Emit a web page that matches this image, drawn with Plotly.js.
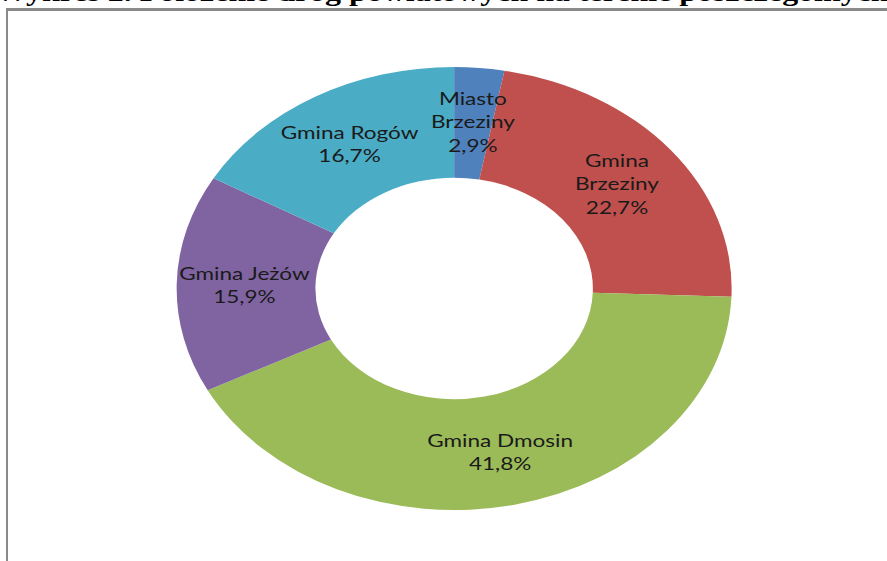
<!DOCTYPE html>
<html>
<head>
<meta charset="utf-8">
<script src="https://cdn.plot.ly/plotly-3.0.1.min.js"></script>
<style>
  html, body { margin: 0; padding: 0; background: #fff; overflow: hidden; width: 887px; height: 561px; }
  #frame { position: absolute; left: 6px; top: 8px; width: 1000px; height: 700px;
           border-left: 2px solid #8a8a8a; border-top: 3px solid #8a8a8a; box-sizing: border-box; }
  #chart { position: absolute; left: 0; top: 0; width: 708px; height: 561px;
           transform: scaleX(1.2528); transform-origin: 0 0; }
</style>
</head>
<body>
<div id="frame"></div>
<div id="chart"></div>
<script>
// ---- data ----
const categories = ["Miasto Brzeziny", "Gmina Brzeziny", "Gmina Dmosin", "Gmina Jeżów", "Gmina Rogów"];
const labelLines = ["Miasto<br>Brzeziny", "Gmina<br>Brzeziny", "Gmina Dmosin", "Gmina Jeżów", "Gmina Rogów"];
const shares = [2.9, 22.7, 41.8, 15.9, 16.7];
const colors = ["#4F81BD", "#C0504D", "#9BBB59", "#8064A2", "#4BACC6"];
const titleText = "Wykres 2. Położenie dróg powiatowych na terenie poszczególnych gmin";

// ---- layout geometry ----
const W = 708, H = 561;
const M = { l: 141, r: 124, t: 67, b: 51 };
const plotW = W - M.l - M.r, plotH = H - M.t - M.b;

const total = shares.reduce((a, b) => a + b, 0);
const labelRadius = 0.755; // fraction of outer radius
let cum = 0;
const annotations = shares.map((v, i) => {
  const mid = cum + v / 2;
  cum += v;
  const ang = 2 * Math.PI * mid / total;
  return {
    xref: "paper", yref: "paper",
    x: 0.5 + labelRadius * 0.5 * Math.sin(ang),
    y: 0.5 + labelRadius * 0.5 * Math.cos(ang),
    xanchor: "center", yanchor: "middle",
    text: labelLines[i] + "<br>" + v.toFixed(1).replace(".", ",") + "%",
    showarrow: false,
    font: { family: "Lato, 'Open Sans', sans-serif", size: 18, color: "#1a1a1a" }
  };
});

annotations.push({
  xref: "paper", yref: "paper",
  x: (-6 - M.l) / plotW, y: (H - M.b + 8) / plotH,
  xanchor: "left", yanchor: "middle",
  text: "<b>" + titleText + "</b>",
  showarrow: false,
  font: { family: "'Liberation Serif', 'Times New Roman', serif", size: 25.5, color: "#000" }
});

const trace = {
  type: "pie",
  labels: categories,
  values: shares,
  hole: 0.5,
  sort: false,
  direction: "clockwise",
  rotation: 0,
  marker: { colors: colors, line: { width: 0 } },
  textinfo: "none",
  hoverinfo: "label+percent",
  showlegend: false
};

const layout = {
  width: W, height: H,
  margin: M,
  paper_bgcolor: "rgba(0,0,0,0)",
  plot_bgcolor: "rgba(0,0,0,0)",
  showlegend: false,
  annotations: annotations
};

Plotly.newPlot("chart", [trace], layout, { displayModeBar: false, staticPlot: true });
</script>
</body>
</html>
